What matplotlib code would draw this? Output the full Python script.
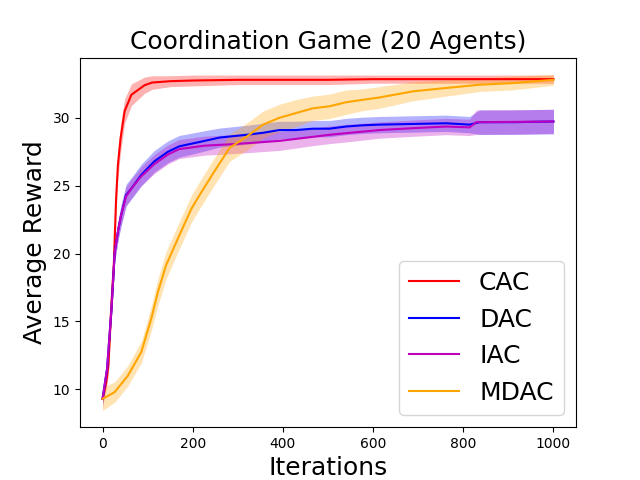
import matplotlib
matplotlib.use("Agg")
import matplotlib.pyplot as plt
import numpy as np

# values
cac_iters = [0, 8, 13, 20, 25, 30, 34, 40, 49, 64, 93, 110, 150, 200, 300, 400, 500, 600, 700, 800, 900, 1000]
cac_mean = [9.3, 10.5, 11.8, 16.5, 19.2, 24.0, 26.5, 28.5, 30.5, 31.7, 32.4, 32.6, 32.7, 32.75, 32.8, 32.8, 32.8, 32.85, 32.85, 32.85, 32.85, 32.85]
cac_spread = [0.3, 0.5, 0.8, 1.0, 1.0, 1.0, 1.0, 1.0, 0.9, 0.8, 0.6, 0.5, 0.4, 0.4, 0.35, 0.35, 0.35, 0.3, 0.3, 0.3, 0.3, 0.3]

dac_iters = [0, 10, 20, 27, 35, 41, 52, 64, 86, 115, 145, 170, 226, 260, 319, 356, 392, 429, 466, 503, 540, 577, 614, 688, 762, 814, 836, 910, 1000]
dac_mean = [9.3, 11.5, 16.0, 20.1, 21.8, 22.8, 24.3, 24.8, 25.8, 26.8, 27.5, 27.9, 28.3, 28.55, 28.75, 28.9, 29.1, 29.1, 29.2, 29.2, 29.36, 29.45, 29.5, 29.55, 29.6, 29.5, 29.68, 29.68, 29.73]
dac_spread = [0.5, 0.5, 0.6, 0.7, 0.7, 0.8, 0.8, 0.8, 0.8, 0.8, 0.8, 0.8, 0.75, 0.7, 0.7, 0.7, 0.65, 0.65, 0.6, 0.6, 0.6, 0.6, 0.6, 0.6, 0.6, 0.6, 0.9, 0.9, 0.9]

iac_iters = [0, 10, 20, 27, 35, 41, 52, 64, 86, 115, 145, 170, 226, 282, 319, 392, 466, 503, 540, 614, 688, 762, 814, 829, 910, 1000]
iac_mean = [9.3, 11.5, 16.0, 20.1, 21.8, 22.8, 24.2, 24.8, 25.7, 26.6, 27.3, 27.7, 27.95, 28.05, 28.13, 28.3, 28.6, 28.75, 28.87, 29.1, 29.24, 29.36, 29.3, 29.68, 29.7, 29.73]
iac_spread = [0.7, 0.5, 0.6, 0.7, 0.7, 0.7, 0.7, 0.7, 0.7, 0.7, 0.7, 0.7, 0.7, 0.7, 0.7, 0.7, 0.65, 0.65, 0.65, 0.6, 0.6, 0.6, 0.6, 0.9, 0.9, 0.9]

mdac_iters = [0, 27, 56, 86, 108, 123, 141, 167, 197, 215, 245, 282, 319, 356, 392, 429, 466, 503, 540, 577, 614, 688, 762, 836, 910, 1000]
mdac_mean = [9.3, 9.8, 11.0, 12.75, 15.2, 17.2, 19.15, 21.1, 23.3, 24.3, 25.9, 27.8, 28.6, 29.5, 30.0, 30.35, 30.7, 30.85, 31.15, 31.33, 31.5, 31.95, 32.2, 32.44, 32.56, 32.8]
mdac_spread = [0.85, 0.75, 0.75, 0.8, 0.9, 1.0, 1.0, 1.0, 1.0, 1.0, 1.0, 1.0, 1.0, 1.0, 1.0, 1.0, 0.9, 0.9, 0.9, 0.8, 0.8, 0.7, 0.6, 0.5, 0.5, 0.4]

series = [
    ("CAC", "red", cac_iters, cac_mean, cac_spread),
    ("DAC", "blue", dac_iters, dac_mean, dac_spread),
    ("IAC", "m", iac_iters, iac_mean, iac_spread),
    ("MDAC", "orange", mdac_iters, mdac_mean, mdac_spread),
]

fig, ax = plt.subplots(figsize=(6.4, 4.8), dpi=100)
for name, color, it, mean, spread in series:
    it = np.array(it)
    mean = np.array(mean)
    spread = np.array(spread)
    ax.fill_between(it, mean - spread, mean + spread, color=color, alpha=0.3, linewidth=0)
    ax.plot(it, mean, color=color, linewidth=1.5, label=name)

ax.set_title("Coordination Game (20 Agents)", fontsize=18)
ax.set_xlabel("Iterations", fontsize=18)
ax.set_ylabel("Average Reward", fontsize=18)
ax.legend(loc="lower right", fontsize=18)

fig.savefig("out.png")
